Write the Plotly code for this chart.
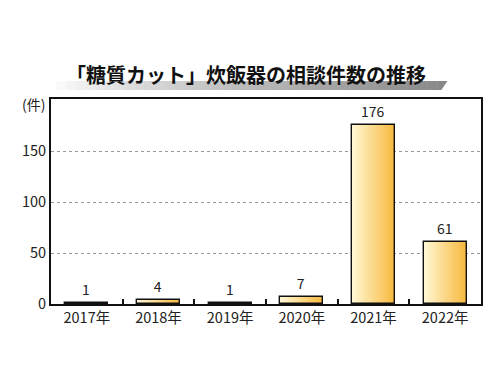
import plotly.graph_objects as go

categories = ["2017年", "2018年", "2019年", "2020年", "2021年", "2022年"]
values = [1, 4, 1, 7, 176, 61]
y_ticks = [0, 50, 100, 150]
title_text = "「糖質カット」炊飯器の相談件数の推移"
unit_text = "(件)"

FONT = "Noto Sans CJK JP"
W = 0.6
N = 30
light = (255, 248, 214)
dark = (247, 184, 58)

# page body has an 8px default margin; figure is sized to compensate
OFF = 8
L, R, T, B = 51 - OFF, 19, 99 - OFF, 71
FW, FH = 500 - OFF, 375 - OFF
PW, PH = FW - L - R, FH - T - B


def mix(t):
    return "rgb(%d,%d,%d)" % tuple(round(a + (b - a) * t) for a, b in zip(light, dark))


def px(x):
    return (x - 51) / PW


def py(y):
    return (304 - y) / PH


fig = go.Figure()
for i in range(N):
    frac = 1 - i / N
    t = 1 - (i + 0.5) / N
    fig.add_trace(go.Bar(
        x=categories, y=values, width=[W * frac] * len(values), offset=-W / 2,
        marker=dict(color=mix(t), line=dict(width=0)), hoverinfo="skip", showlegend=False,
    ))
fig.add_trace(go.Bar(
    x=categories, y=values, width=[W] * len(values), offset=-W / 2,
    marker=dict(color="rgba(0,0,0,0)", line=dict(color="#111", width=1.4)),
    text=[str(v) for v in values], textposition="outside", cliponaxis=False,
    textfont=dict(family=FONT, size=14, color="#222"), showlegend=False,
))

# decorative gray band under the title
shapes = []
x0p, x1p = px(56), px(447)
ytop, ybot = py(81), py(90)
steps = 40
slant = 6 / PW
for k in range(steps):
    a = x0p + (x1p - x0p) * k / steps
    b = x0p + (x1p - x0p) * (k + 1) / steps + 0.001
    g = round(250 - 115 * (k / steps) ** 0.8)
    if k == steps - 1:
        path = f"M {a} {ybot} L {a} {ytop} L {b} {ytop} L {b - slant} {ybot} Z"
    else:
        path = f"M {a} {ybot} L {a} {ytop} L {b} {ytop} L {b} {ybot} Z"
    shapes.append(dict(type="path", xref="paper", yref="paper", path=path,
                       fillcolor=f"rgb({g},{g},{g})", line=dict(width=0), layer="below"))

fig.update_layout(
    width=FW, height=FH,
    margin=dict(l=L, r=R, t=T, b=B),
    paper_bgcolor="white", plot_bgcolor="white",
    barmode="overlay", bargap=0,
    font=dict(family=FONT, color="#222"),
    shapes=shapes,
    xaxis=dict(
        type="category", showline=True, linecolor="#111", linewidth=2, mirror=True,
        ticks="inside", tickson="boundaries", ticklen=5, tickwidth=2, tickcolor="#111",
        tickfont=dict(family=FONT, size=14.5, color="#222"), showgrid=False,
    ),
    yaxis=dict(
        range=[0, 201], tickvals=y_ticks, showline=True, linecolor="#111", linewidth=2,
        mirror=True, ticks="", showgrid=True, gridcolor="#999", griddash="dot", gridwidth=1,
        tickfont=dict(family=FONT, size=14.5, color="#222"), zeroline=False,
    ),
    annotations=[
        dict(text="<b>" + title_text + "</b>", xref="paper", yref="paper",
             x=px(246), y=py(75), xanchor="center", yanchor="middle",
             showarrow=False, font=dict(family=FONT, size=20, color="#111")),
        dict(text=unit_text, xref="paper", yref="paper", x=px(47), y=py(104),
             xanchor="right", yanchor="middle", showarrow=False,
             font=dict(family=FONT, size=14, color="#222")),
    ],
)

fig.write_html("out.html")
